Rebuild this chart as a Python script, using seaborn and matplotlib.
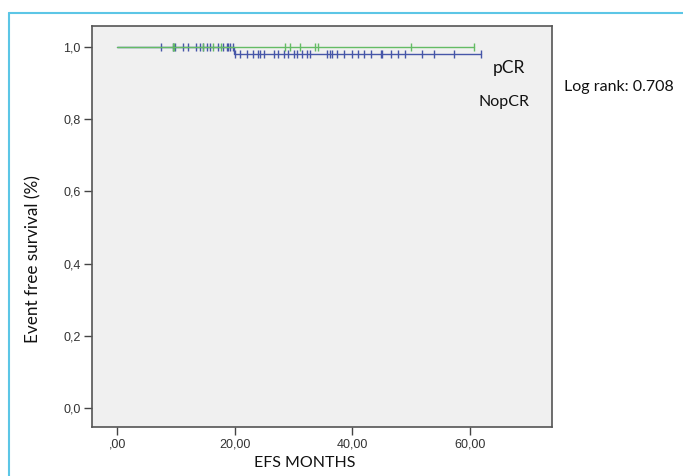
import numpy as np
import pandas as pd
import matplotlib
matplotlib.use('Agg')
import matplotlib.pyplot as plt
import seaborn as sns
from matplotlib.lines import Line2D

# Kaplan-Meier steps (time, survival)
pcr_times = [0.0, 60.6]
pcr_surv = [1.0, 1.0]
nopcr_times = [0.0, 19.8, 61.8]
nopcr_surv = [1.0, 0.98, 0.98]

# censored observations (months)
pcr_cens = [9.4, 9.7, 14.5, 16.3, 17.7, 28.6, 29.4, 31.1, 33.7, 34.2, 49.9, 60.6]
nopcr_cens = [7.5, 9.4, 9.9, 11.2, 12.1, 13.4, 14.1, 14.6, 15.3, 15.8, 17.2, 18.0,
              18.6, 18.9, 19.2, 19.6, 20.1, 20.9, 22.1, 23.0, 24.0, 24.3, 24.9,
              26.6, 27.4, 28.3, 29.1, 30.0, 30.6, 31.5, 32.3, 32.7, 35.7, 36.1,
              36.6, 37.4, 38.5, 40.0, 41.0, 41.9, 43.1, 44.8, 45.1, 46.5, 47.7,
              49.0, 51.9, 53.8, 57.2, 61.8]

xticks = [0, 20, 40, 60]
xticklabels = [',00', '20,00', '40,00', '60,00']
yticks = [0.0, 0.2, 0.4, 0.6, 0.8, 1.0]
yticklabels = ['0,0', '0,2', '0,4', '0,6', '0,8', '1,0']

green = '#64bc64'
blue = '#4656a8'


def surv_at(t, times, surv):
    idx = np.searchsorted(times, t, side='right') - 1
    return [surv[i] for i in idx]


sns.set_style('white')
plt.rcParams['font.family'] = ['Liberation Sans', 'DejaVu Sans']
lab_font = ['Lato', 'DejaVu Sans']

fig = plt.figure(figsize=(6.83, 4.76), dpi=100)
ax = fig.add_axes([0.1347, 0.1029, 0.674, 0.8425])
ax.set_facecolor('#f0f0f0')

sns.lineplot(x=nopcr_times, y=nopcr_surv, drawstyle='steps-post', color=blue,
             linewidth=1, ax=ax, estimator=None)
sns.scatterplot(x=nopcr_cens, y=surv_at(nopcr_cens, nopcr_times, nopcr_surv),
                marker='|', s=28, linewidth=1, color=blue, ax=ax)
sns.lineplot(x=pcr_times, y=pcr_surv, drawstyle='steps-post', color=green,
             linewidth=1, ax=ax, estimator=None)
sns.scatterplot(x=pcr_cens, y=surv_at(pcr_cens, pcr_times, pcr_surv),
                marker='|', s=28, linewidth=1, color=green, ax=ax)

ax.set_xlim(-4.3, 74)
ax.set_ylim(-0.053, 1.058)
ax.set_xticks(xticks)
ax.set_xticklabels(xticklabels, fontsize=9, color='#333333')
ax.set_yticks(yticks)
ax.set_yticklabels(yticklabels, fontsize=9, color='#333333')
ax.tick_params(direction='out', length=6, width=1, color='#444444', pad=2,
               bottom=True, left=True)
for s in ax.spines.values():
    s.set_color('#555555')
    s.set_linewidth(1.2)

ax.set_xlabel('EFS MONTHS', fontsize=11.5, family=lab_font, color='#111111')
ax.xaxis.set_label_coords(0.463, -0.09)
ax.xaxis.label.set_va('center')
ax.set_ylabel('Event free survival (%)', fontsize=12.3, family=lab_font,
              color='#111111')
ax.yaxis.set_label_coords(-0.128, 0.42)
ax.yaxis.label.set_va('center')

ax.text(69.3, 0.942, 'pCR', ha='right', va='center', fontsize=12.5,
        family=lab_font, color='#111111')
ax.text(70.1, 0.848, 'NopCR', ha='right', va='center', fontsize=11.5,
        family=lab_font, color='#111111')
fig.text(0.826, 0.817, 'Log rank: 0.708', ha='left', va='center', fontsize=11.5,
         family=lab_font, color='#111111')

# light blue frame of the screenshot
fig.add_artist(Line2D([9 / 683, 1], [1 - 13 / 476, 1 - 13 / 476],
                      transform=fig.transFigure, color='#5cc6e6', linewidth=1.5))
fig.add_artist(Line2D([9 / 683, 9 / 683], [0, 1 - 13 / 476],
                      transform=fig.transFigure, color='#5cc6e6', linewidth=1.5))

if ax.get_legend() is not None:
    ax.get_legend().remove()

fig.savefig('out.png', dpi=100)
